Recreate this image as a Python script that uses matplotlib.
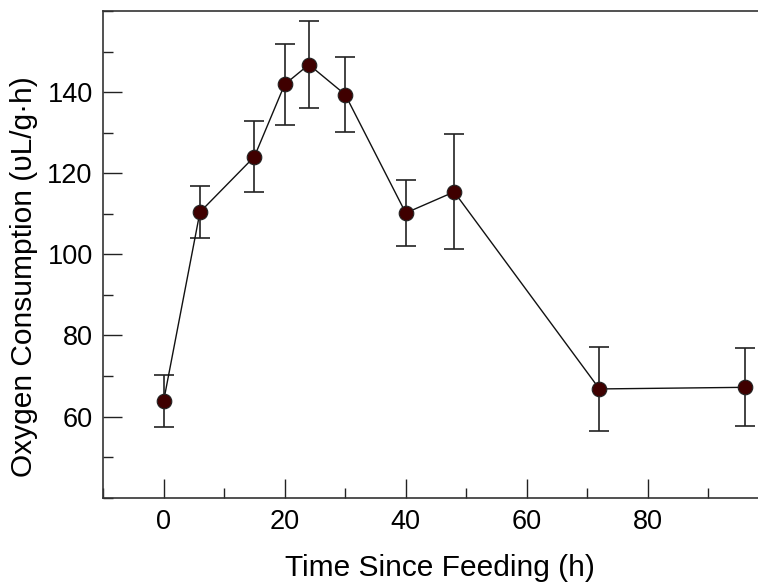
import matplotlib
matplotlib.use("Agg")
import matplotlib.pyplot as plt
from matplotlib.ticker import MultipleLocator

hours = [0, 6, 15, 20, 24, 30, 40, 48, 72, 96]
oxygen = [63.8, 110.4, 124.1, 141.9, 146.8, 139.4, 110.2, 115.4, 66.8, 67.2]
sem = [6.5, 6.4, 8.7, 9.9, 10.8, 9.2, 8.1, 14.2, 10.3, 9.6]

plt.rcParams['font.family'] = ['Liberation Sans', 'DejaVu Sans']

fig = plt.figure(figsize=(7.58, 5.82), dpi=100)
ax = fig.add_axes([0.136, 0.145, 0.864, 0.836])

ax.errorbar(hours, oxygen, yerr=sem, fmt='none', ecolor='#222222',
            elinewidth=1.2, capsize=7, capthick=1.2, zorder=2)
ax.plot(hours, oxygen, '-', color='#111111', lw=1.0, zorder=3)
ax.plot(hours, oxygen, 'o', ms=10.5, markerfacecolor='#3f0000',
        markeredgecolor='#222222', markeredgewidth=0.8, zorder=4)

ax.set_xlim(-10, 98.2)
ax.set_ylim(40, 160)
ax.xaxis.set_minor_locator(MultipleLocator(10))
ax.yaxis.set_minor_locator(MultipleLocator(10))
ax.set_xticks([0, 20, 40, 60, 80])
ax.set_yticks([60, 80, 100, 120, 140])

ax.tick_params(which='major', direction='in', length=14, width=1.0,
               labelsize=19.5, colors='#222222', labelcolor='black')
ax.tick_params(axis='x', which='major', pad=8)
ax.tick_params(axis='y', which='major', pad=7.5)
ax.tick_params(which='minor', direction='in', length=7, width=1.0,
               colors='#222222')
ax.tick_params(top=False, right=False, which='both')

ax.spines['right'].set_visible(False)
for s in ['left', 'bottom', 'top']:
    ax.spines[s].set_linewidth(1.2)
    ax.spines[s].set_color('#333333')

ax.set_xlabel('Time Since Feeding (h)', fontsize=21.5)
ax.xaxis.set_label_coords(0.5145, -0.116)
ax.set_ylabel('Oxygen Consumption (υL/g·h)', fontsize=21.5)
ax.yaxis.set_label_coords(-0.099, 0.454)

fig.savefig('out.png', dpi=100)
